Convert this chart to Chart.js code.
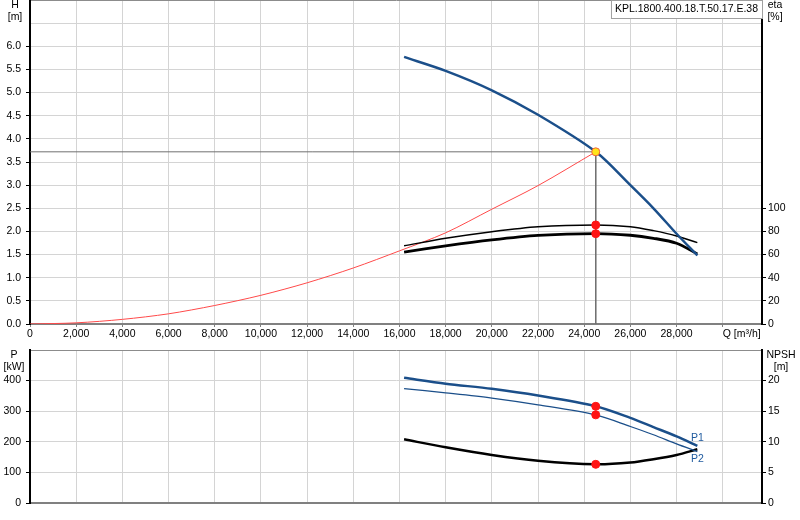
<!DOCTYPE html>
<html lang="en">
<head>
<meta charset="UTF-8">
<title>KPL.1800.400.18.T.50.17.E.38 pump curves</title>
<script src="https://cdn.jsdelivr.net/npm/chart.js"></script>
<style>
  body { margin: 0; background: #fff; width: 800px; height: 520px; overflow: hidden; position: relative; }
  #topChart { position: absolute; left: 0; top: 0; }
  #bottomChart { position: absolute; left: 0; top: 342px; }
</style>
</head>
<body>
<canvas id="topChart" width="800" height="342"></canvas>
<canvas id="bottomChart" width="800" height="178"></canvas>
<script>
const pumpName = 'KPL.1800.400.18.T.50.17.E.38';

// flow points of the pump curves, m3/h
const flowQ = [16200, 18000, 20000, 22000, 24500, 26000, 27000, 28000, 28900];
// head H [m]
const headH = [5.77, 5.47, 5.05, 4.52, 3.72, 3.00, 2.50, 1.95, 1.48];
// efficiencies [%]
const etaUpper = [67.6, 74.1, 79.8, 84.1, 85.6, 84.1, 80.7, 76.1, 70.3];
const etaLower = [62.1, 67.5, 72.7, 76.6, 78.1, 76.7, 74.1, 69.8, 60.6];
// power [kW] and NPSH [m]
const powerP1 = [409, 390, 373, 351, 316, 278, 248, 218, 187];
const powerP2 = [374, 360, 343, 321, 288, 250, 223, 193, 168];
const npsh = [10.4, 9.1, 7.84, 6.9, 6.32, 6.6, 7.14, 7.84, 8.77];

// system curve
const systemQ = [0, 2000, 4000, 6000, 8000, 10000, 12000, 14000, 16000, 18000, 20000, 22000, 24500];
const systemH = [0, 0.025, 0.10, 0.22, 0.40, 0.62, 0.89, 1.21, 1.58, 1.97, 2.48, 2.99, 3.72];

// duty point
const dutyQ = 24500;
const dutyH = 3.72;
const dutyEta = [85.6, 78.1];
const dutyP = [316, 288];
const dutyNpsh = 6.32;

// axis ranges and ticks
const qMax = 31700;
const qTicks = [0, 2000, 4000, 6000, 8000, 10000, 12000, 14000, 16000, 18000, 20000, 22000, 24000, 26000, 28000, 30000];
const qLastLabel = 28000, qTitleAt = 30000;
const hMax = 7, hStep = 0.5, hLastLabel = 6;
const etaMax = 280, etaStep = 20, etaLastLabel = 100;
const pMax = 500, pStep = 100, pLastLabel = 400;
const npshMax = 25, npshStep = 5, npshLastLabel = 20;

const blue = '#1b4f8a';
const gridGrey = '#d4d4d4';
const FONT = '"Liberation Sans", Arial, sans-serif';

Chart.defaults.font.family = FONT;
Chart.defaults.font.size = 10.5;
Chart.defaults.color = '#000';

const pts = (xs, ys) => xs.map((x, i) => ({ x: x, y: ys[i] }));

// text drawn around the plot (axis names, units, pump name)
const textPlugin = {
  id: 'axisText',
  afterDraw(chart, args, opts) {
    const c = chart.ctx;
    c.save();
    c.font = '10.5px ' + FONT;
    c.textBaseline = 'middle';
    opts.draw(chart, c);
    c.restore();
  }
};

function flowAxis(labels, height) {
  return {
    type: 'linear',
    min: 0,
    max: qMax,
    afterFit: s => { s.height = height; s.paddingLeft = 0; s.paddingRight = 0; },
    afterBuildTicks: s => { s.ticks = qTicks.map(v => ({ value: v })); },
    border: { color: '#808080', width: 2 },
    grid: {
      color: gridGrey,
      lineWidth: 1,
      tickLength: 3,
      tickColor: labels ? '#808080' : 'transparent'
    },
    ticks: {
      display: labels,
      autoSkip: false,
      maxRotation: 0,
      padding: 1,
      callback: v => v <= qLastLabel ? v.toLocaleString('en-US') : ''
    }
  };
}

function valueAxis(pos, max, step, lastLabel, fmt, width, onArea) {
  return {
    type: 'linear',
    position: pos,
    min: 0,
    max: max,
    afterFit: s => { s.width = width; s.paddingTop = 0; s.paddingBottom = 0; },
    border: { color: '#000', width: 2 },
    grid: {
      drawOnChartArea: onArea,
      color: ctx => ctx.tick && ctx.tick.value === max ? '#8c8c8c' : gridGrey,
      lineWidth: 1,
      tickLength: 4,
      tickColor: ctx => ctx.tick && ctx.tick.value <= lastLabel ? '#000' : 'transparent'
    },
    ticks: {
      stepSize: step,
      autoSkip: false,
      padding: pos === 'left' ? 5 : 2,
      callback: v => v <= lastLabel ? fmt(v) : ''
    }
  };
}

const commonOptions = {
  responsive: false,
  animation: false,
  events: [],
  plugins: { legend: { display: false }, tooltip: { enabled: false } }
};

const curve = (data, color, width, axis) => ({
  data: data,
  yAxisID: axis,
  borderColor: color,
  borderWidth: width,
  pointRadius: 0,
  fill: false,
  tension: 0.3
});

const dots = (data, axis, fillColor, edgeColor) => ({
  data: data,
  yAxisID: axis,
  showLine: false,
  pointRadius: 4,
  pointBackgroundColor: fillColor,
  pointBorderColor: edgeColor,
  pointBorderWidth: 1
});

// ---- Q-H / eta chart
new Chart(document.getElementById('topChart'), {
  type: 'line',
  data: {
    datasets: [
      dots([{ x: dutyQ, y: dutyH }], 'y', '#ffe41a', '#f2603a'),
      dots(dutyEta.map(e => ({ x: dutyQ, y: e })), 'y2', '#ff1414', '#ff1414'),
      curve(pts(flowQ, headH), blue, 2.5, 'y'),
      curve(pts(flowQ, etaUpper), '#000', 1.5, 'y2'),
      curve(pts(flowQ, etaLower), '#000', 2.8, 'y2'),
      curve(pts(systemQ, systemH), '#ff4a4a', 1, 'y'),
      {
        data: [{ x: 0, y: dutyH }, { x: dutyQ, y: dutyH }, { x: dutyQ, y: 0 }],
        yAxisID: 'y',
        borderColor: '#707070',
        borderWidth: 1,
        pointRadius: 0,
        tension: 0
      }
    ]
  },
  options: Object.assign({}, commonOptions, {
    layout: { padding: 0, autoPadding: false },
    scales: {
      x: flowAxis(true, 18),
      y: valueAxis('left', hMax, hStep, hLastLabel, v => v.toFixed(1), 30, true),
      y2: valueAxis('right', etaMax, etaStep, etaLastLabel, v => String(v), 38, false)
    },
    plugins: Object.assign({}, commonOptions.plugins, {
      axisText: {
        draw(chart, c) {
          const a = chart.chartArea;
          c.textAlign = 'center';
          c.fillText('H', 15, 5);
          c.fillText('[m]', 15, 17);
          c.fillText('eta', 775, 5);
          c.fillText('[%]', 775, 17);
          c.textAlign = 'left';
          c.fillText('Q [m³/h]', chart.scales.x.getPixelForValue(qTitleAt), a.bottom + 10);
          // pump name box
          const w = c.measureText(pumpName).width + 8;
          c.fillStyle = '#fff';
          c.fillRect(a.right - w, 0, w, 19);
          c.strokeStyle = '#a0a0a0';
          c.lineWidth = 1;
          c.strokeRect(a.right - w + 0.5, 0.5, w, 18);
          c.fillStyle = '#000';
          c.fillText(pumpName, a.right - w + 4, 9);
        }
      }
    })
  }),
  plugins: [textPlugin]
});

// ---- P / NPSH chart
new Chart(document.getElementById('bottomChart'), {
  type: 'line',
  data: {
    datasets: [
      dots(dutyP.map(p => ({ x: dutyQ, y: p })), 'y', '#ff1414', '#ff1414'),
      dots([{ x: dutyQ, y: dutyNpsh }], 'y2', '#ff1414', '#ff1414'),
      curve(pts(flowQ, powerP1), blue, 2.5, 'y'),
      curve(pts(flowQ, powerP2), blue, 1.3, 'y'),
      curve(pts(flowQ, npsh), '#000', 2.5, 'y2')
    ]
  },
  options: Object.assign({}, commonOptions, {
    layout: { padding: { top: 8, left: 0, right: 0, bottom: 0 }, autoPadding: false },
    scales: {
      x: flowAxis(false, 17),
      y: valueAxis('left', pMax, pStep, pLastLabel, v => String(v), 30, true),
      y2: valueAxis('right', npshMax, npshStep, npshLastLabel, v => String(v), 38, false)
    },
    plugins: Object.assign({}, commonOptions.plugins, {
      axisText: {
        draw(chart, c) {
          c.textAlign = 'center';
          c.fillText('P', 14, 13);
          c.fillText('[kW]', 14, 25);
          c.fillText('NPSH', 781, 13);
          c.fillText('[m]', 781, 25);
          const last = flowQ.length - 1;
          const xEnd = chart.scales.x.getPixelForValue(flowQ[last]);
          c.fillStyle = '#1f5a9e';
          c.fillText('P1', xEnd, chart.scales.y.getPixelForValue(powerP1[last]) - 8);
          c.fillText('P2', xEnd, chart.scales.y.getPixelForValue(powerP2[last]) + 8);
        }
      }
    })
  }),
  plugins: [textPlugin]
});
</script>
</body>
</html>
